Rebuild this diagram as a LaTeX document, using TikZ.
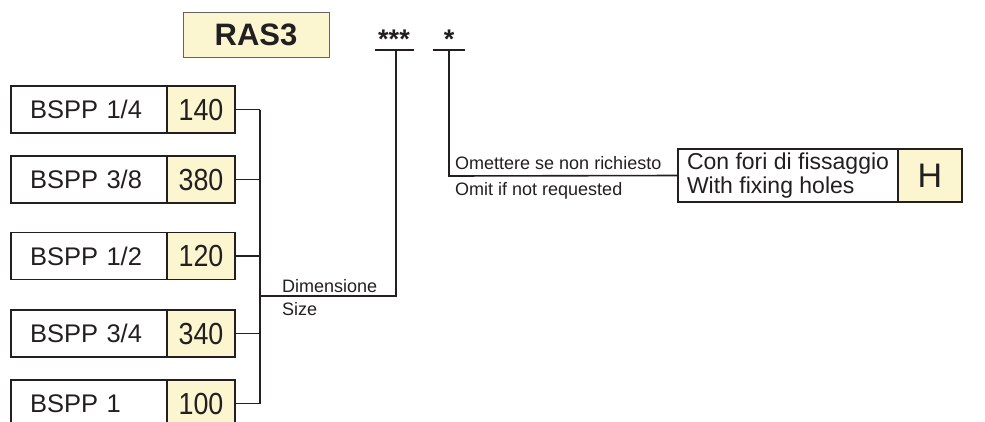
\documentclass[tikz,border=0pt]{standalone}
\usepackage{fontspec}
\setmainfont{Liberation Sans}
\usepackage{graphicx}
\definecolor{cream}{HTML}{FBF5D0}
\definecolor{ink}{HTML}{231F20}
\newcommand\cnum[1]{\scalebox{0.88}[1]{#1}}
\begin{document}
\begin{tikzpicture}[x=1pt,y=-1pt,
  lbl/.style={draw=ink, line width=1.6pt, fill=white, minimum width=156pt, minimum height=47pt, inner xsep=19pt, inner ysep=0pt, text width=118pt, align=left, font=\fontsize{25.5}{27}\selectfont, text=ink},
  num/.style={draw=ink, line width=1.6pt, fill=cream, minimum width=68pt, minimum height=47pt, inner sep=0pt, font=\fontsize{30.5}{30}\selectfont, text=ink},
  wire/.style={draw=ink, line width=1.6pt},
  small/.style={font=\fontsize{18}{18}\selectfont, anchor=base west, inner sep=0pt, text=ink}]
\useasboundingbox (0,0) rectangle (985,421);

% title
\node[draw=ink!70, line width=1pt, fill=cream, minimum width=146pt, minimum height=45pt, inner sep=0pt,
      font=\fontsize{31}{31}\selectfont\bfseries, text=ink] (ras) at (256,34.5) {RAS3};
\node[font=\fontsize{27}{27}\selectfont\bfseries, anchor=base, inner sep=0pt, text=ink] (s3) at (394,48) {***};
\node[font=\fontsize{27}{27}\selectfont\bfseries, anchor=base, inner sep=0pt, text=ink] (s1) at (449,48) {*};
\coordinate (u3l) at (375,50); \coordinate (u3r) at (414,50); \coordinate (u3c) at (396,50);
\coordinate (u1l) at (433,50); \coordinate (u1r) at (465,50); \coordinate (u1c) at (449,50);
\draw[wire] (u3l) -- (u3r);
\draw[wire] (u1l) -- (u1r);

% size rows
\foreach \i/\y/\t/\n in {1/109.5/BSPP 1\slash 4/140, 2/179.5/BSPP 3\slash 8/380, 3/256/BSPP 1\slash 2/120, 4/333.5/BSPP 3\slash 4/340, 5/403.5/BSPP 1/100}{
  \node[lbl] (l\i) at (89,\y) {\t};
  \node[num] (n\i) at (201,\y) {\cnum{\n}};
  \coordinate (b\i) at (260,\y);
  \draw[wire] (n\i.east) -- (b\i);
}
\draw[wire] (b1) -- (b5);
\coordinate (k3) at (396,296);
\coordinate (j3) at (260,296);
\draw[wire] (j3) -- (k3) -- (u3c);
\node[small] (dim) at (282,292) {Dimensione};
\node[small] (siz) at (282,315) {Size};

% option H
\node[draw=ink, line width=1.6pt, fill=white, minimum width=220pt, minimum height=53pt, inner sep=0pt,
      align=left, font=\fontsize{23}{24}\selectfont, text=ink] (hl) at (788,175.5)
      {Con fori di fissaggio\\With fixing holes};
\node[draw=ink, line width=1.6pt, fill=cream, minimum width=64pt, minimum height=53pt, inner sep=0pt,
      font=\fontsize{34}{34}\selectfont, text=ink] (hv) at (930,175.5) {H};
\coordinate (k1) at (449,176);
\draw[wire] (u1c) -- (k1) -- (hl.west);
\node[small] (om1) at (455,169) {Omettere se non richiesto};
\node[small] (om2) at (455,195) {Omit if not requested};
\end{tikzpicture}
\end{document}
